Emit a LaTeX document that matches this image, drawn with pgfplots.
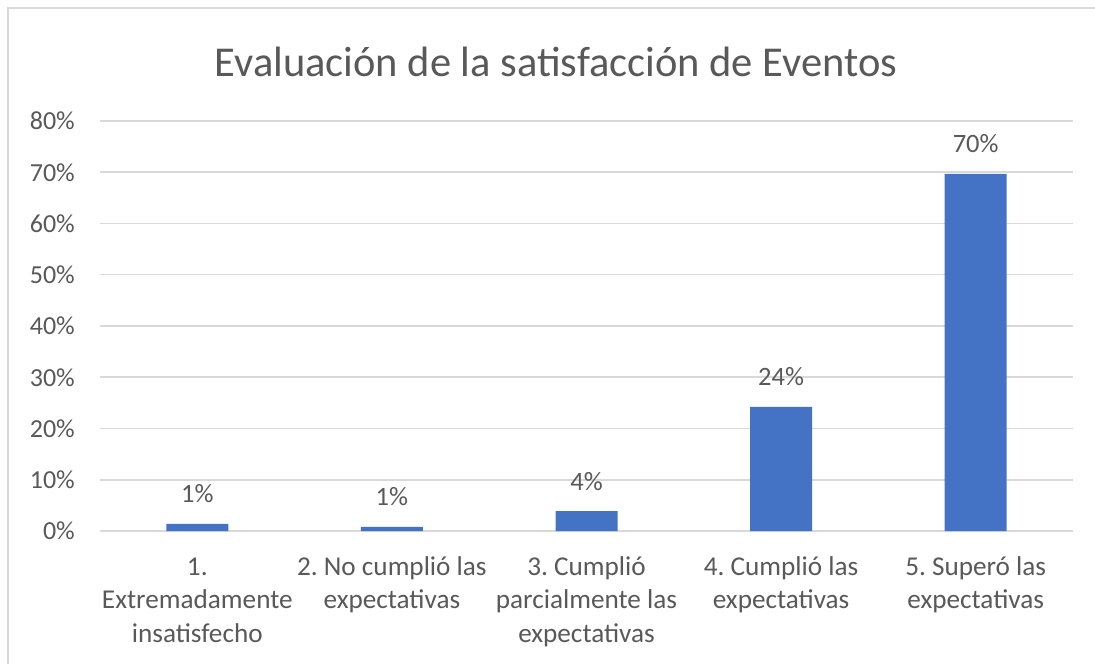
\documentclass[border=0pt]{standalone}
\usepackage{pgfplots}
\pgfplotsset{compat=1.18}
\usepackage{fontspec}
\setmainfont{Carlito}
\frenchspacing
\definecolor{barblue}{HTML}{4472C4}
\definecolor{txtgray}{HTML}{595959}
\definecolor{gridgray}{HTML}{D9D9D9}
\newcommand{\s}{\rule{0pt}{20pt}}
\begin{document}
\frenchspacing
\begin{tikzpicture}[x=1pt,y=1pt]
\useasboundingbox (0,0) rectangle (1095,664);
\fill[white] (0,0) rectangle (1095,664);
\draw[gridgray, line width=2pt] (8,0) -- (8,656) -- (1095,656);
\node[txtgray, font=\fontsize{42.5}{46}\selectfont] at (556,602) {Evaluación de la satisfacción de Eventos};
\begin{axis}[
  at={(100pt,133pt)}, anchor=south west,
  scale only axis, width=973pt, height=410pt,
  xmin=-0.5, xmax=4.5, ymin=0, ymax=80,
  axis line style={draw=none},
  major tick length=0pt,
  ymajorgrids, grid style={gridgray, line width=1.5pt},
  ytick={0,10,20,30,40,50,60,70,80},
  yticklabels={0\%,10\%,20\%,30\%,40\%,50\%,60\%,70\%,80\%},
  yticklabel style={anchor=east, inner sep=0pt, xshift=-25pt, text=txtgray, font=\fontsize{26}{33}\selectfont},
  xtick={0,1,2,3,4},
  xticklabels={{\s 1.\\Extremadamente\\insatisfecho},{\s 2. No cumplió las\\expectativas},{\s 3. Cumplió\\parcialmente las\\expectativas},{\s 4. Cumplió las\\expectativas},{\s 5. Superó las\\expectativas}},
  xticklabel style={anchor=north, align=center, inner sep=0pt, yshift=-24pt, text=txtgray, font=\fontsize{27.2}{33.5}\selectfont\frenchspacing},
  point meta=explicit symbolic,
  nodes near coords,
  every node near coord/.append style={anchor=base, inner sep=0pt, yshift=21pt, text=txtgray, font=\fontsize{26.5}{30}\selectfont},
]
\addplot[ybar, bar width=62pt, fill=barblue, draw=none] coordinates {
  (0,1.4) [1\%]
  (1,0.8) [1\%]
  (2,3.9) [4\%]
  (3,24.2) [24\%]
  (4,69.7) [70\%]
};
\end{axis}
\end{tikzpicture}
\end{document}
